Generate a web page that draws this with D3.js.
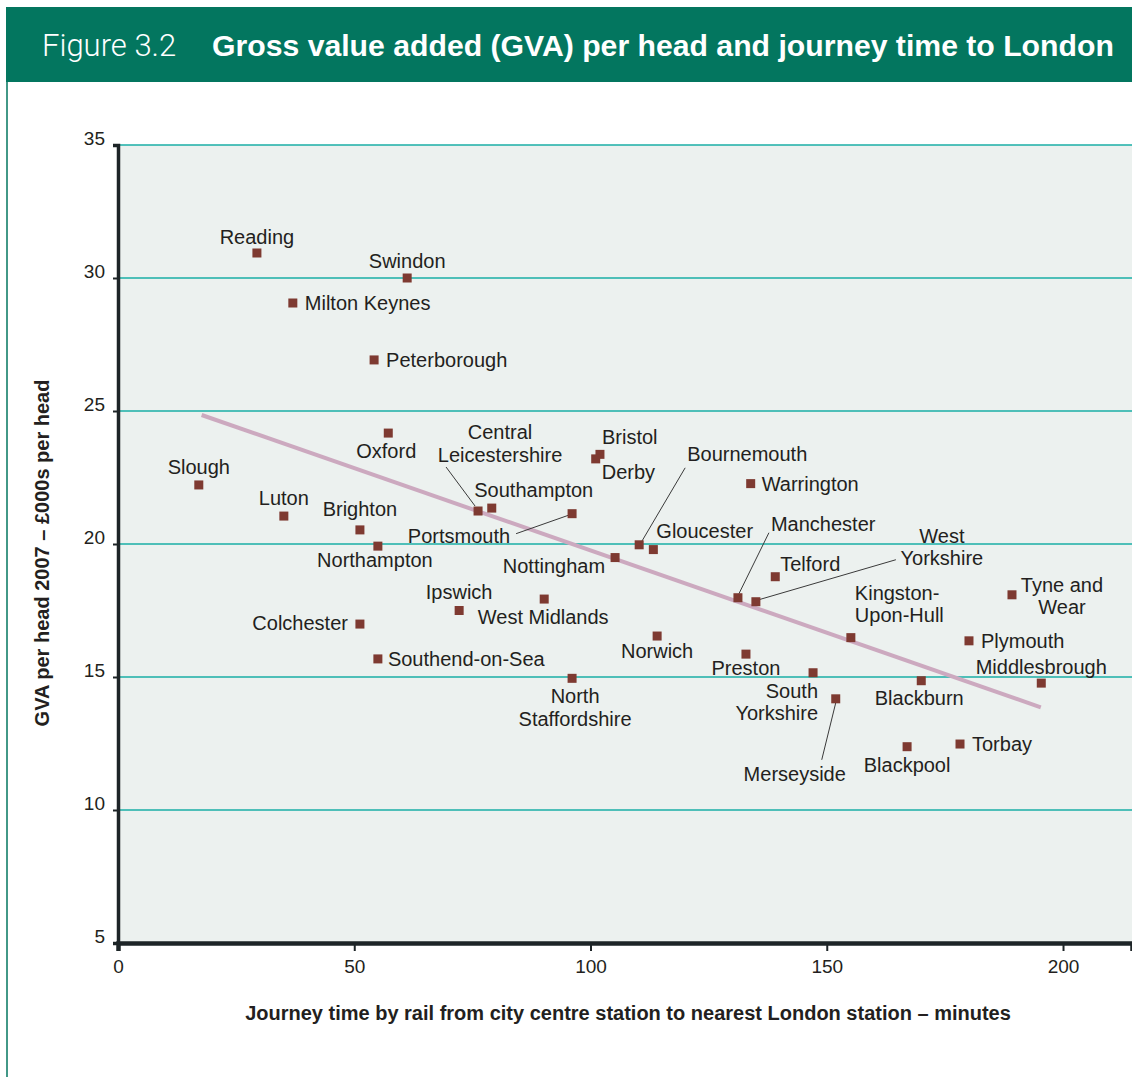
<!DOCTYPE html>
<html>
<head>
<meta charset="utf-8" />
<title>Figure 3.2 GVA per head and journey time to London</title>
<script src="https://d3js.org/d3.v7.min.js"></script>
<style>
    body { margin: 0px; background: #ffffff; }
    svg { display: block; }
    .label { font-family: "Liberation Sans", Arial, sans-serif; font-size: 20px; fill: #231f20; }
    .tick-y { font-family: "Liberation Sans", Arial, sans-serif; font-size: 19px; fill: #231f20; }
    .tick-x { font-family: "Liberation Sans", Arial, sans-serif; font-size: 19px; fill: #231f20; }
    .axis-title { font-family: "Liberation Sans", Arial, sans-serif; font-size: 20px; font-weight: bold; fill: #231f20; }
</style>
</head>
<body>
<script>
// places, journey time (minutes) and GVA per head (£000s)
var places = ["Reading", "Swindon", "Milton Keynes", "Peterborough", "Oxford", "Slough",
    "Luton", "Brighton", "Northampton", "Colchester", "Southend-on-Sea",
    "Central Leicestershire", "Southampton", "Portsmouth", "Bristol", "Derby",
    "Nottingham", "Ipswich", "West Midlands", "Norwich", "North Staffordshire",
    "Bournemouth", "Gloucester", "Warrington", "Manchester", "Telford", "West Yorkshire",
    "Kingston-Upon-Hull", "Preston", "South Yorkshire", "Merseyside", "Blackburn",
    "Blackpool", "Torbay", "Tyne and Wear", "Plymouth", "Middlesbrough"];
var journeyTime = [29.4, 61.2, 37.0, 54.2, 57.2, 17.1,
    35.1, 51.2, 55.0, 51.2, 55.0,
    76.2, 79.1, 96.1, 102.0, 101.1,
    105.2, 72.2, 90.2, 114.1, 96.1,
    110.3, 113.3, 133.9, 131.2, 139.1, 135.0,
    155.1, 132.9, 147.1, 151.9, 170.0,
    167.0, 178.2, 189.2, 180.1, 195.4];
var gvaPerHead = [30.94, 30.0, 29.06, 26.92, 24.17, 22.22,
    21.05, 20.53, 19.92, 16.99, 15.68,
    21.24, 21.35, 21.14, 23.37, 23.2,
    19.49, 17.5, 17.93, 16.54, 14.95,
    19.97, 19.79, 22.27, 17.98, 18.77, 17.83,
    16.48, 15.86, 15.16, 14.18, 14.86,
    12.38, 12.48, 18.09, 16.36, 14.77];

// trend line end points
var trendX = [17.7, 195.3];
var trendY = [24.85, 13.86];

var xTicks = [0, 50, 100, 150, 200];
var yTicks = [5, 10, 15, 20, 25, 30, 35];

// label placement: dx, dy (px from point), anchor, optional line break, optional leader [x1,y1,x2,y2]
var labelLayout = {
    "Reading": [0, -9, "middle"],
    "Swindon": [0, -10, "middle"],
    "Milton Keynes": [12, 7, "start"],
    "Peterborough": [12, 7, "start"],
    "Oxford": [-2, 25, "middle"],
    "Slough": [0, -11, "middle"],
    "Luton": [0, -11, "middle"],
    "Brighton": [0, -14, "middle"],
    "Northampton": [-3, 21, "middle"],
    "Colchester": [-12, 6, "end"],
    "Southend-on-Sea": [10, 7, "start"],
    "Central Leicestershire": [22, -72, "middle", ["Central", "Leicestershire"], [-32, -44, -3, -5]],
    "Southampton": [42, -11, "middle"],
    "Portsmouth": [-62, 29, "end", null, [-56, 20, -2, 1]],
    "Bristol": [2, -10, "start"],
    "Derby": [6, 20, "start"],
    "Nottingham": [-10, 15, "end"],
    "Ipswich": [0, -12, "middle"],
    "West Midlands": [-1, 25, "middle"],
    "Norwich": [0, 22, "middle"],
    "North Staffordshire": [3, 25, "middle", ["North", "Staffordshire"]],
    "Bournemouth": [48, -84, "start", null, [46, -77, 0, 1]],
    "Gloucester": [3, -12, "start"],
    "Warrington": [11, 7, "start"],
    "Manchester": [33, -67, "start", null, [31, -65, 1, -4]],
    "Telford": [5, -6, "start"],
    "West Yorkshire": [186, -59, "middle", ["West", "Yorkshire"], [140, -42, 3, -2]],
    "Kingston-Upon-Hull": [4, -38, "start", ["Kingston-", "Upon-Hull"]],
    "Preston": [0, 21, "middle"],
    "South Yorkshire": [5, 25, "end", ["South", "Yorkshire"]],
    "Merseyside": [-41, 82, "middle", null, [-14, 61, 0, 4]],
    "Blackburn": [-2, 24, "middle"],
    "Blackpool": [0, 25, "middle"],
    "Torbay": [12, 7, "start"],
    "Tyne and Wear": [50, -3, "middle", ["Tyne and", "Wear"]],
    "Plymouth": [12, 7, "start"],
    "Middlesbrough": [0, -9, "middle"]
};

var W = 1132, H = 1077;
var green = "#03765f";

var svg = d3.select("body").append("svg")
    .attr("width", W)
    .attr("height", H);

// header band and frame
svg.append("rect").attr("x", 6).attr("y", 7).attr("width", W - 6).attr("height", 75).attr("fill", green);
svg.append("line").attr("x1", 7).attr("x2", 7).attr("y1", 82).attr("y2", H).attr("stroke", green).attr("stroke-width", 1.5);

var head = svg.append("text")
    .attr("x", 42).attr("y", 56)
    .style("font-family", "Roboto, 'Liberation Sans', Arial, sans-serif")
    .attr("fill", "#ffffff");
head.append("tspan").style("font-weight", 300).style("font-size", "31px").text("Figure 3.2");
head.append("tspan").attr("x", 212).style("font-weight", "bold")
    .style("font-size", "30.2px")
    .style("font-family", "'Liberation Sans', Arial, sans-serif")
    .text("Gross value added (GVA) per head and journey time to London");

// scales
var x = d3.scaleLinear().domain([0, 214.6]).range([118, 1132]);
var y = d3.scaleLinear().domain([5, 35]).range([943, 145]);

// plot background
svg.append("rect")
    .attr("x", x(0)).attr("y", y(35))
    .attr("width", x(214.6) - x(0)).attr("height", y(5) - y(35))
    .attr("fill", "#ecf1ef");

// gridlines
svg.append("g").selectAll("line")
    .data(yTicks.filter(d => d > 5))
    .join("line")
    .attr("x1", x(0)).attr("x2", W)
    .attr("y1", d => y(d)).attr("y2", d => y(d))
    .attr("stroke", "#1aaea6").attr("stroke-width", 1.6);

// y axis
var yAxis = svg.append("g")
    .attr("transform", "translate(" + x(0) + ",0)")
    .call(d3.axisLeft(y).tickValues(yTicks).tickSize(5).tickPadding(8));
yAxis.select(".domain").attr("stroke", "#1d2427").attr("stroke-width", 3.5);
yAxis.selectAll(".tick line").attr("stroke", "#1d2427").attr("stroke-width", 2);
yAxis.selectAll(".tick text")
    .attr("class", "tick-y")
    .attr("dy", "-0.05em")
    .attr("font-family", null).attr("font-size", null).attr("fill", null);

// x axis
var xAxis = svg.append("g")
    .attr("transform", "translate(0," + y(5) + ")")
    .call(d3.axisBottom(x).tickValues(xTicks).tickSize(8).tickPadding(9));
xAxis.select(".domain").attr("stroke", "#1d2427").attr("stroke-width", 4.5);
xAxis.selectAll(".tick line").attr("stroke", "#1d2427").attr("stroke-width", 2);
xAxis.selectAll(".tick text")
    .attr("class", "tick-x")
    .attr("font-family", null).attr("font-size", null).attr("fill", null);

// trend line
svg.append("line")
    .attr("x1", x(trendX[0])).attr("y1", y(trendY[0]))
    .attr("x2", x(trendX[1])).attr("y2", y(trendY[1]))
    .attr("stroke", "#cca9bf").attr("stroke-width", 4);

var pts = places.map((p, i) => ({ name: p, t: journeyTime[i], g: gvaPerHead[i] }));

// leader lines
svg.append("g").selectAll("line")
    .data(pts.filter(d => labelLayout[d.name][4]))
    .join("line")
    .attr("x1", d => x(d.t) + labelLayout[d.name][4][0])
    .attr("y1", d => y(d.g) + labelLayout[d.name][4][1])
    .attr("x2", d => x(d.t) + labelLayout[d.name][4][2])
    .attr("y2", d => y(d.g) + labelLayout[d.name][4][3])
    .attr("stroke", "#3a3a3a").attr("stroke-width", 1);

// markers
var ms = 9;
svg.append("g").selectAll("rect")
    .data(pts)
    .join("rect")
    .attr("x", d => x(d.t) - ms / 2)
    .attr("y", d => y(d.g) - ms / 2)
    .attr("width", ms).attr("height", ms)
    .attr("fill", "#7e3a31");

// labels
var labels = svg.append("g").selectAll("text")
    .data(pts)
    .join("text")
    .attr("class", "label")
    .attr("x", d => x(d.t) + labelLayout[d.name][0])
    .attr("y", d => y(d.g) + labelLayout[d.name][1])
    .attr("text-anchor", d => labelLayout[d.name][2]);
labels.each(function(d) {
    var lines = labelLayout[d.name][3] || [d.name];
    var el = d3.select(this);
    lines.forEach((ln, k) => {
        el.append("tspan")
            .attr("x", x(d.t) + labelLayout[d.name][0])
            .attr("dy", k === 0 ? 0 : 22.5)
            .text(ln);
    });
});

// axis titles
svg.append("text")
    .attr("class", "axis-title")
    .attr("x", 628).attr("y", 1020)
    .attr("text-anchor", "middle")
    .text("Journey time by rail from city centre station to nearest London station \u2013 minutes");

svg.append("text")
    .attr("class", "axis-title")
    .attr("transform", "translate(49,553) rotate(-90)")
    .attr("text-anchor", "middle")
    .text("GVA per head 2007 \u2013 \u00a3000s per head");
</script>
</body>
</html>
